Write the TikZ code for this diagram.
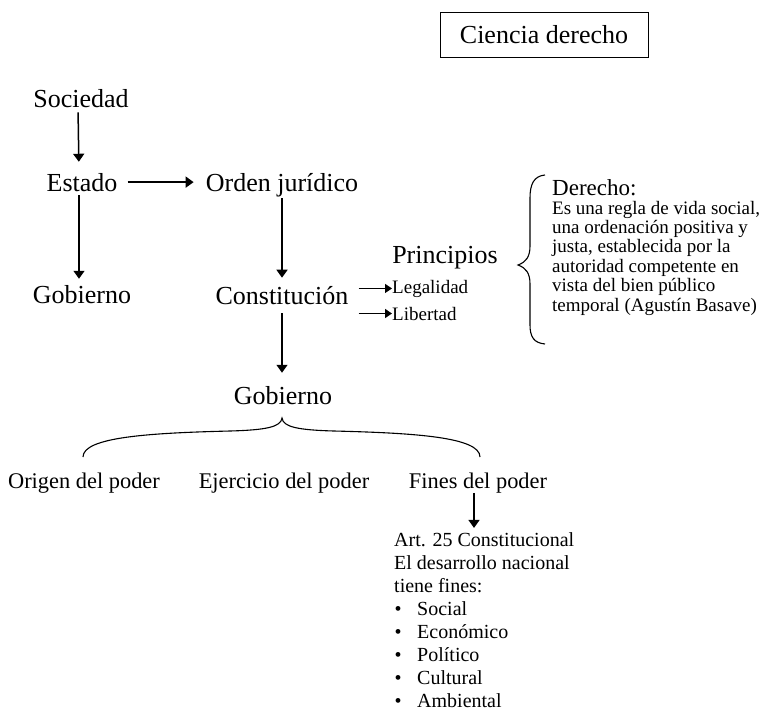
\documentclass[tikz,border=0pt]{standalone}
\usepackage{fontspec}
\setmainfont{Liberation Serif}
\usetikzlibrary{arrows.meta}
\begin{document}
\begin{tikzpicture}[x=1pt,y=-1pt,
  big/.style={font=\fontsize{26}{30}\selectfont, inner sep=0pt, anchor=base},
  mid/.style={font=\fontsize{22.4}{26}\selectfont, inner sep=0pt, anchor=base},
  small/.style={font=\fontsize{19}{22}\selectfont, inner sep=0pt, anchor=base west},
  artline/.style={font=\fontsize{20}{23}\selectfont, inner sep=0pt, anchor=base west},
  arr/.style={line width=1.5pt, -{Triangle[length=8pt,width=11pt]}},
  sarr/.style={line width=1.4pt, -{Triangle[length=7pt,width=9pt]}},
  brc/.style={line width=1.1pt},
]
\useasboundingbox (0,0) rectangle (760,712);

% title box
\node[draw, line width=1pt, minimum width=208pt, minimum height=45pt,
      font=\fontsize{26}{30}\selectfont, inner sep=0pt] (cd) at (544,34.5) {Ciencia derecho};

% main chain
\node[big] (soc) at (81,107) {Sociedad};
\node[big] (est) at (82,191) {Estado};
\node[big] (orden) at (282,191) {Orden jurídico};
\node[big] (gobl) at (82,303) {Gobierno};
\node[big] (const) at (282,304) {Constitución};
\node[big] (gobb) at (283,404) {Gobierno};

\draw[arr, shorten <=5pt, shorten >=11pt] ([xshift=-3pt]soc.south) -- ([xshift=-3pt]est.north);
\draw[arr, shorten <=4pt, shorten >=6pt] ([xshift=-3pt]est.south) -- ([xshift=-3pt]gobl.north);
\draw[arr, shorten <=10pt, shorten >=12pt] (est.east) -- (est.east -| orden.west);
\draw[arr, shorten <=1.5pt, shorten >=8pt] (orden.south) -- (orden.south |- const.north);
\draw[arr, shorten <=9pt, shorten >=13pt] (const.south) -- (const.south |- gobb.north);

% principles
\node[big] (prin) at (445,263) {Principios};
\node[small] (legal) at (392,293) {Legalidad};
\node[small] (liber) at (392,320) {Libertad};
\draw[sarr, shorten <=10pt] (const.east |- legal.west) -- (legal.west);
\draw[sarr, shorten <=10pt] (const.east |- liber.west) -- (liber.west);

% definition brace
\draw[brc] (545,175) .. controls (534,176) and (530,184) .. (530,198)
  -- (530,246) .. controls (530,257) and (526,262) .. (518,265)
  .. controls (526,268) and (530,273) .. (530,284)
  -- (530,325) .. controls (530,337) and (534,343) .. (545,344);

\node[font=\fontsize{23}{27}\selectfont, inner sep=0pt, anchor=base west] (der) at (552,195) {Derecho:};
\foreach \t [count=\i from 0] in {Es una regla de vida social{,},
  una ordenación positiva y,
  justa{,} establecida por la,
  autoridad competente en,
  vista del bien público,
  temporal (Agustín Basave)}
  \node[small] (def\i) at (552,214+19.4*\i) {\t};

% government branches
\draw[brc] (83,457) .. controls (83,437) and (150,433) .. (230,431)
  .. controls (266,430) and (281,427) .. (282,418)
  .. controls (283,427) and (298,430) .. (334,431)
  .. controls (414,433) and (480,437) .. (480,457);

\node[mid] (orig) at (84,488) {Origen del poder};
\node[mid] (ejer) at (284,488) {Ejercicio del poder};
\node[mid] (fines) at (478,488) {Fines del poder};

\node[artline] (art0) at (394,546) {Art. 25 Constitucional};
\node[artline] (art1) at (394,569.1) {El desarrollo nacional};
\node[artline] (art2) at (394,592.2) {tiene fines:};
\foreach \t [count=\i from 3] in {Social, Económico, Político, Cultural, Ambiental}{
  \node[artline, anchor=base] (bul\i) at (398,546+23.1*\i) {•};
  \node[artline] (art\i) at (417,546+23.1*\i) {\t};
}
\draw[arr, shorten >=4pt] ([xshift=-4pt]fines.south) -- ([xshift=-4pt]fines.south |- art0.north);
\end{tikzpicture}
\end{document}
